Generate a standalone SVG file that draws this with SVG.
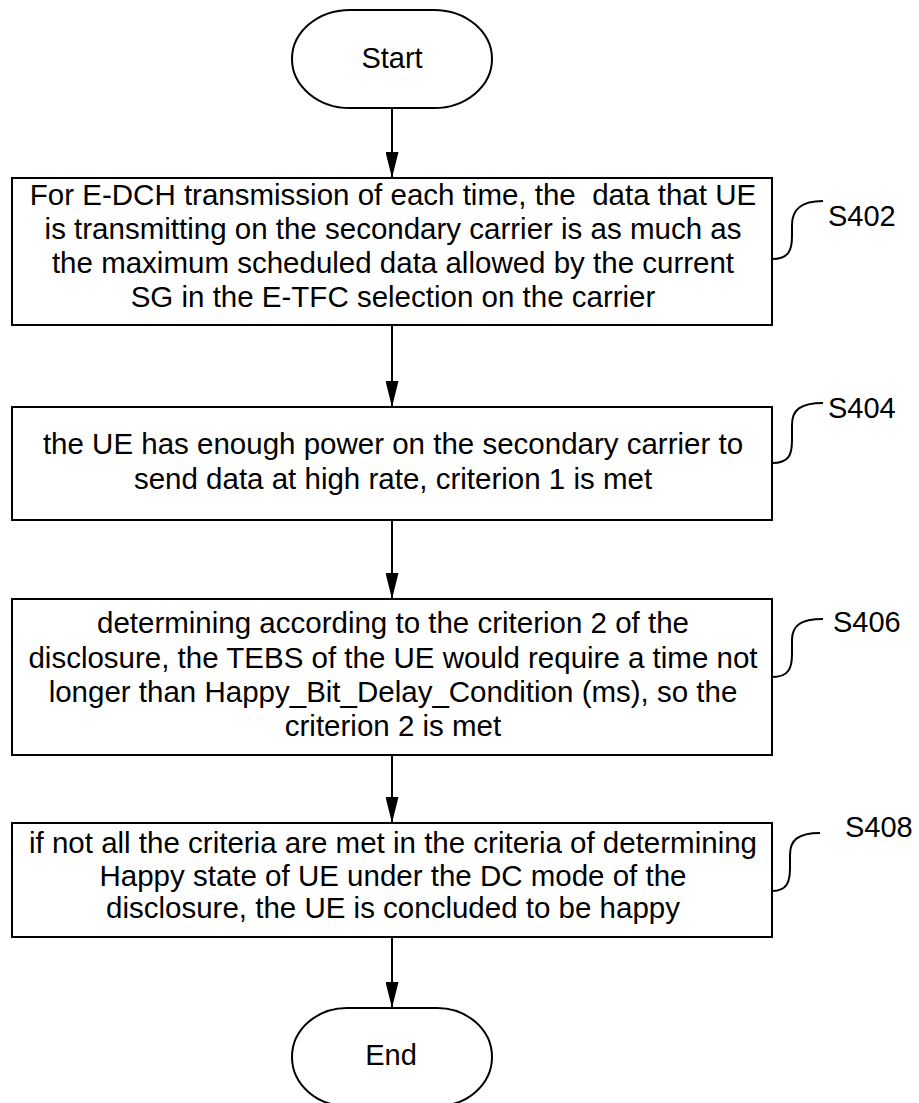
<svg xmlns="http://www.w3.org/2000/svg" width="919" height="1103" viewBox="0 0 919 1103">
<defs>
<marker id="ah" markerWidth="26" markerHeight="13" refX="26" refY="6.5" orient="auto" markerUnits="userSpaceOnUse" viewBox="0 0 26 13">
<path d="M0,0 L26,6.5 L0,13 Z" fill="#000"/>
</marker>
<style>
.box{fill:#fff;stroke:#000;stroke-width:2}
.t{font-family:"Liberation Sans",Arial,sans-serif;font-size:29.5px;fill:#000;text-anchor:middle}
.big{font-family:"Liberation Sans",Arial,sans-serif;font-size:29px;fill:#000}
.lead{fill:none;stroke:#000;stroke-width:2}
.conn{stroke:#000;stroke-width:2;fill:none}
</style>
</defs>
<rect width="919" height="1103" fill="#fff"/>
<g id="connectors">
<line class="conn" x1="392" y1="108" x2="392" y2="178" marker-end="url(#ah)"/>
<line class="conn" x1="392" y1="325" x2="392" y2="407" marker-end="url(#ah)"/>
<line class="conn" x1="392" y1="520" x2="392" y2="599" marker-end="url(#ah)"/>
<line class="conn" x1="392" y1="755" x2="392" y2="823" marker-end="url(#ah)"/>
<line class="conn" x1="392" y1="937" x2="392" y2="1008" marker-end="url(#ah)"/>
</g>
<g id="start">
<rect class="box" x="292" y="10" width="200" height="98" rx="58" ry="49"/>
<text class="big" x="392" y="68" text-anchor="middle">Start</text>
</g>
<g id="s402">
<rect class="box" x="12" y="178" width="760" height="147"/>
<text class="t" x="393" y="205" xml:space="preserve">For E-DCH transmission of each time, the  data that UE</text>
<text class="t" x="393" y="239">is transmitting on the secondary carrier is as much as</text>
<text class="t" x="393" y="273">the maximum scheduled data allowed by the current</text>
<text class="t" x="393" y="307">SG in the E-TFC selection on the carrier</text>
<path class="lead" d="M772,259 C789,259 792,250 792,236 L792,225 C792,210 800,201 823,201"/>
<text class="big" x="828" y="226">S402</text>
</g>
<g id="s404">
<rect class="box" x="12" y="407" width="760" height="113"/>
<text class="t" x="393" y="454">the UE has enough power on the secondary carrier to</text>
<text class="t" x="393" y="489">send data at high rate, criterion 1 is met</text>
<path class="lead" d="M772,463 C789,463 792,455 792,440 L792,425 C792,410 800,403 823,403"/>
<text class="big" x="828" y="418">S404</text>
</g>
<g id="s406">
<rect class="box" x="12" y="599" width="760" height="156"/>
<text class="t" x="393" y="633">determining according to the criterion 2 of the</text>
<text class="t" x="393" y="668">disclosure, the TEBS of the UE would require a time not</text>
<text class="t" x="393" y="702">longer than Happy_Bit_Delay_Condition (ms), so the</text>
<text class="t" x="393" y="736">criterion 2 is met</text>
<path class="lead" d="M772,677 C789,677 792,668 792,654 L792,640 C792,626 800,619 823,619"/>
<text class="big" x="833" y="632">S406</text>
</g>
<g id="s408">
<rect class="box" x="12" y="823" width="760" height="114"/>
<text class="t" x="393" y="853">if not all the criteria are met in the criteria of determining</text>
<text class="t" x="393" y="886">Happy state of UE under the DC mode of the</text>
<text class="t" x="393" y="918">disclosure, the UE is concluded to be happy</text>
<path class="lead" d="M772,891 C787,891 790,882 790,868 L790,855 C790,840 798,833 820,833"/>
<text class="big" x="845" y="837">S408</text>
</g>
<g id="end">
<rect class="box" x="292" y="1008" width="200" height="98" rx="55" ry="49"/>
<text class="big" x="391" y="1065" text-anchor="middle">End</text>
</g>
</svg>
